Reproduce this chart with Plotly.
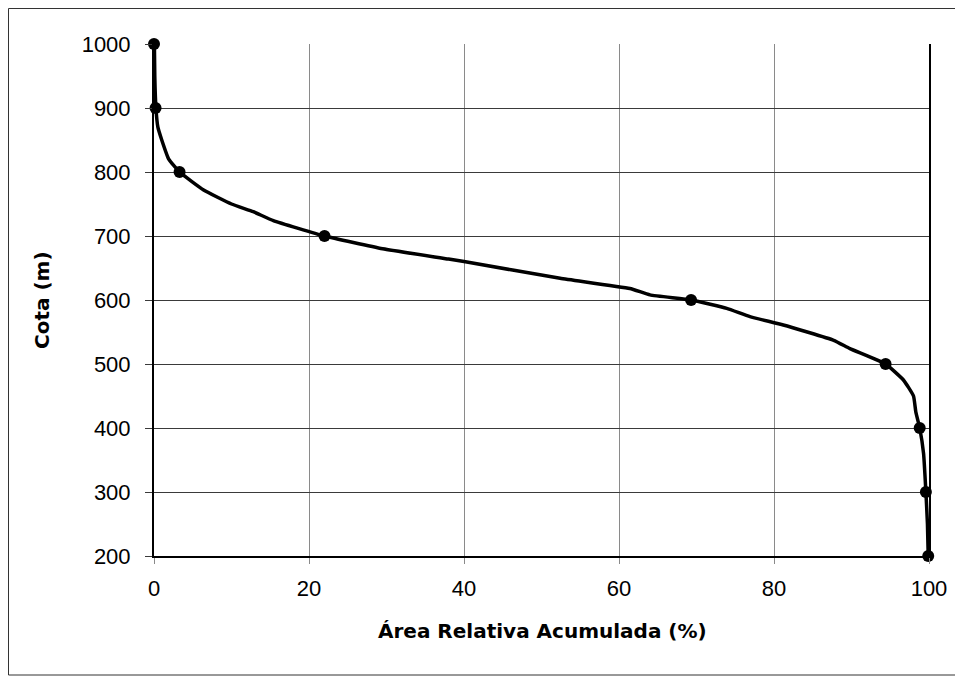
import plotly.graph_objects as go

# Curva hipsométrica
cota_curva = [1000, 950, 900, 870, 850, 820, 800, 772, 750, 738, 724, 700,
              680, 664, 660, 634, 618, 608, 600, 587, 574, 561, 537, 524,
              500, 475, 450, 425, 400, 360, 300, 250, 200]
area_curva = [0.05, 0.1, 0.25, 0.5, 1.0, 1.9, 3.3, 6.4, 10.0, 12.8, 15.4, 22.0,
              29.5, 38.0, 40.0, 52.4, 61.4, 64.0, 69.3, 73.9, 76.9, 81.2, 87.7, 89.8,
              94.4, 96.7, 98.0, 98.3, 98.8, 99.3, 99.6, 99.8, 99.9]

# Pontos marcados a cada 100 m
cota_pontos = [1000, 900, 800, 700, 600, 500, 400, 300, 200]
area_pontos = [0.0, 0.2, 3.3, 22.0, 69.3, 94.4, 98.8, 99.6, 99.9]

x_ticks = [0, 20, 40, 60, 80, 100]
y_ticks = [200, 300, 400, 500, 600, 700, 800, 900, 1000]

FONT = "Liberation Sans, Arial, sans-serif"
FONT_TITLE = "DejaVu Sans, Arial, sans-serif"

# the page body has an 8px margin, so work in figure coords = reference - 8
OFF = 8
FW, FH = 963 - OFF, 677 - OFF
L, R, T, B = 154 - OFF, 929 - OFF, 44 - OFF, 556 - OFF
W, H = R - L, B - T


def px(x):
    return (x - OFF - L) / W


def py(y):
    return (B - (y - OFF)) / H


fig = go.Figure()

fig.add_trace(go.Scatter(
    x=area_curva, y=cota_curva, mode="lines",
    line=dict(color="black", width=3.5, shape="spline", smoothing=0.4),
    cliponaxis=False, showlegend=False, hoverinfo="skip"))

fig.add_trace(go.Scatter(
    x=area_pontos, y=cota_pontos, mode="markers",
    marker=dict(color="black", size=12),
    cliponaxis=False, showlegend=False))

fig.update_xaxes(
    range=[0, 100], tickvals=x_ticks, showgrid=True, gridcolor="#8a8a8a", gridwidth=1,
    showline=True, linecolor="black", linewidth=2, zeroline=False,
    ticks="outside", ticklen=6, tickcolor="#8a8a8a",
    tickfont=dict(family=FONT, size=22, color="black"), ticklabelstandoff=6)

fig.update_yaxes(
    range=[200, 1000], tickvals=y_ticks, showgrid=True, gridcolor="#3a3a3a", gridwidth=1,
    showline=True, linecolor="black", linewidth=2, mirror=True, zeroline=False,
    ticks="outside", ticklen=7, tickcolor="#3a3a3a",
    tickfont=dict(family=FONT, size=22, color="black"), ticklabelstandoff=10)

fig.update_layout(
    width=FW, height=FH,
    margin=dict(l=L, r=FW - R, t=T, b=FH - B),
    paper_bgcolor="white", plot_bgcolor="white",
    annotations=[
        dict(text="<b>Área Relativa Acumulada (%)</b>", xref="paper", yref="paper",
             x=px(542), y=py(631), showarrow=False, xanchor="center", yanchor="middle",
             font=dict(family=FONT_TITLE, size=20, color="black")),
        dict(text="<b>Cota (m)</b>", xref="paper", yref="paper",
             x=px(42), y=py(300), showarrow=False, xanchor="center", yanchor="middle",
             textangle=-90, font=dict(family=FONT_TITLE, size=20, color="black")),
    ],
    shapes=[
        dict(type="rect", xref="paper", yref="paper",
             x0=px(8.5), x1=px(956), y0=py(675), y1=py(8.5),
             line=dict(color="#333333", width=1), layer="below"),
    ],
)

fig.write_html("out.html")
